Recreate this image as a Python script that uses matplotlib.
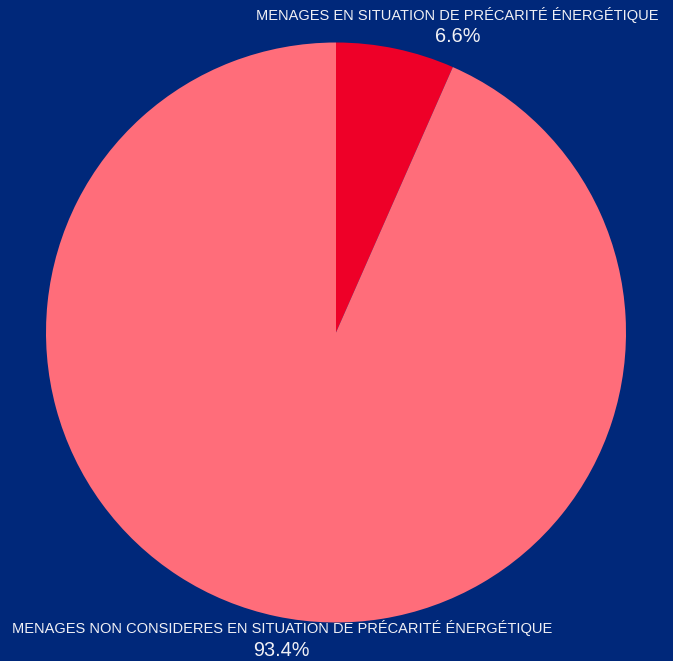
import matplotlib.pyplot as plt

labels = ["MENAGES EN SITUATION DE PRÉCARITÉ ÉNERGÉTIQUE",
          "MENAGES NON CONSIDERES EN SITUATION DE PRÉCARITÉ ÉNERGÉTIQUE"]
values = [6.6, 93.4]
colors = ["#EE0028", "#FF6D7A"]

# label positions in pixel coords (x, y from top)
label_pos = [(457.5, 15), (282, 628)]
pct_pos = [(457.5, 36), (281, 650)]

W, H = 673, 661
bg = "#00287A"

fig = plt.figure(figsize=(W / 100, H / 100), dpi=100, facecolor=bg)
ax = fig.add_axes([0, 0, 1, 1])
ax.set_facecolor(bg)

ax.pie(values, colors=colors, startangle=90, counterclock=False,
       center=(336, H - 332.5), radius=290,
       wedgeprops=dict(linewidth=0))

ax.set_xlim(0, W)
ax.set_ylim(0, H)
ax.set_aspect("equal")
ax.axis("off")

for lab, v, lp, pp in zip(labels, values, label_pos, pct_pos):
    ax.text(lp[0], H - lp[1], lab, color="#F0F0F5", fontsize=10.5,
            family="Liberation Sans", ha="center", va="center")
    ax.text(pp[0], H - pp[1], f"{v:.1f}%", color="#F0F0F5", fontsize=14.3,
            family="Liberation Sans", ha="center", va="center")

fig.savefig("out.png", dpi=100, facecolor=bg)
